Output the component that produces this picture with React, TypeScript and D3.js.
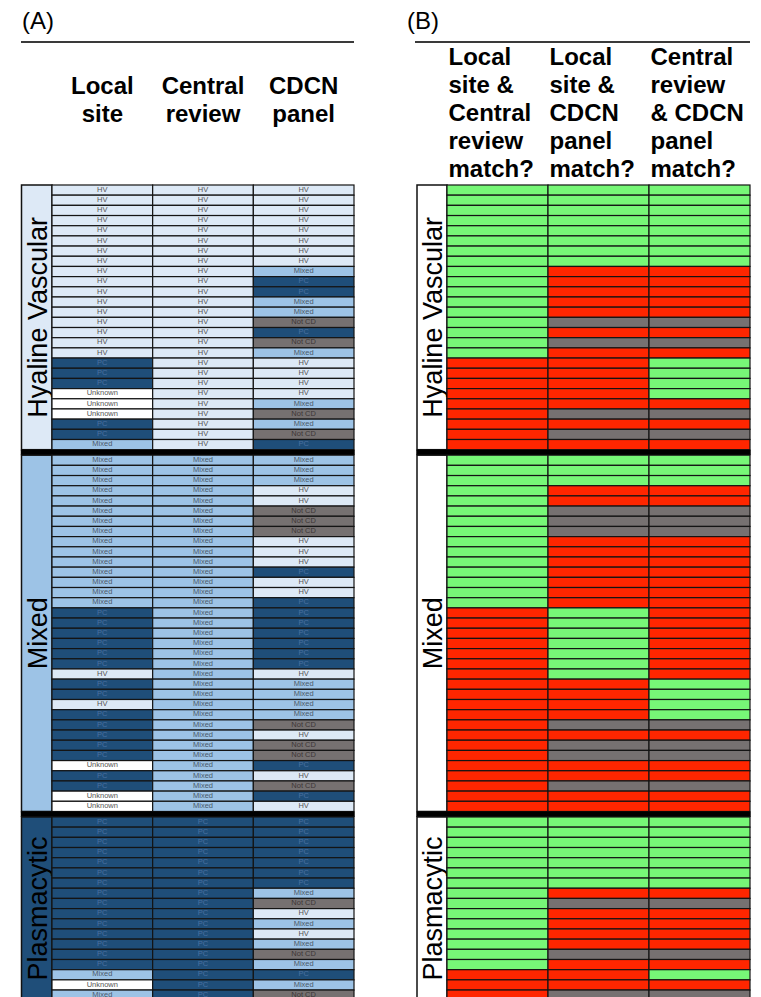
import React from 'react';
import * as d3 from 'd3';

// group names (row blocks)
const groupNames = ['Hyaline Vascular', 'Mixed', 'Plasmacytic'];

// panel A column headers
const headersA = [['Local', 'site'], ['Central', 'review'], ['CDCN', 'panel']];
// panel B column headers
const headersB = [
  ['Local', 'site &', 'Central', 'review', 'match?'],
  ['Local', 'site &', 'CDCN', 'panel', 'match?'],
  ['Central', 'review', '& CDCN', 'panel', 'match?'],
];

// ---- panel A: diagnoses ----
const hvLocal = ['HV', 'HV', 'HV', 'HV', 'HV', 'HV', 'HV', 'HV', 'HV', 'HV', 'HV', 'HV', 'HV', 'HV', 'HV', 'HV', 'HV',
  'PC', 'PC', 'PC', 'Unknown', 'Unknown', 'Unknown', 'PC', 'PC', 'Mixed'];
const hvCentral = ['HV', 'HV', 'HV', 'HV', 'HV', 'HV', 'HV', 'HV', 'HV', 'HV', 'HV', 'HV', 'HV', 'HV', 'HV', 'HV', 'HV',
  'HV', 'HV', 'HV', 'HV', 'HV', 'HV', 'HV', 'HV', 'HV'];
const hvPanel = ['HV', 'HV', 'HV', 'HV', 'HV', 'HV', 'HV', 'HV', 'Mixed', 'PC', 'PC', 'Mixed', 'Mixed', 'Not CD', 'PC', 'Not CD', 'Mixed',
  'HV', 'HV', 'HV', 'HV', 'Mixed', 'Not CD', 'Mixed', 'Not CD', 'PC'];

const mixLocal = ['Mixed', 'Mixed', 'Mixed', 'Mixed', 'Mixed', 'Mixed', 'Mixed', 'Mixed', 'Mixed', 'Mixed', 'Mixed', 'Mixed', 'Mixed', 'Mixed', 'Mixed',
  'PC', 'PC', 'PC', 'PC', 'PC', 'PC', 'HV', 'PC', 'PC', 'HV', 'PC', 'PC', 'PC', 'PC', 'PC', 'Unknown', 'PC', 'PC', 'Unknown', 'Unknown'];
const mixCentral = ['Mixed', 'Mixed', 'Mixed', 'Mixed', 'Mixed', 'Mixed', 'Mixed', 'Mixed', 'Mixed', 'Mixed', 'Mixed', 'Mixed', 'Mixed', 'Mixed', 'Mixed',
  'Mixed', 'Mixed', 'Mixed', 'Mixed', 'Mixed', 'Mixed', 'Mixed', 'Mixed', 'Mixed', 'Mixed', 'Mixed', 'Mixed', 'Mixed', 'Mixed', 'Mixed',
  'Mixed', 'Mixed', 'Mixed', 'Mixed', 'Mixed'];
const mixPanel = ['Mixed', 'Mixed', 'Mixed', 'HV', 'HV', 'Not CD', 'Not CD', 'Not CD', 'HV', 'HV', 'HV', 'PC', 'HV', 'HV', 'PC',
  'PC', 'PC', 'PC', 'PC', 'PC', 'PC', 'HV', 'Mixed', 'Mixed', 'Mixed', 'Mixed', 'Not CD', 'HV', 'Not CD', 'Not CD',
  'PC', 'HV', 'Not CD', 'PC', 'HV'];

const pcLocal = ['PC', 'PC', 'PC', 'PC', 'PC', 'PC', 'PC', 'PC', 'PC', 'PC', 'PC', 'PC', 'PC', 'PC', 'PC', 'Mixed', 'Unknown', 'Mixed'];
const pcCentral = ['PC', 'PC', 'PC', 'PC', 'PC', 'PC', 'PC', 'PC', 'PC', 'PC', 'PC', 'PC', 'PC', 'PC', 'PC', 'PC', 'PC', 'PC'];
const pcPanel = ['PC', 'PC', 'PC', 'PC', 'PC', 'PC', 'PC', 'Mixed', 'Not CD', 'HV', 'Mixed', 'HV', 'Mixed', 'Not CD', 'Mixed',
  'PC', 'Mixed', 'Not CD'];

// ---- panel B: match? Y = yes, N = no, X = not CD ----
const hvLC = ['Y', 'Y', 'Y', 'Y', 'Y', 'Y', 'Y', 'Y', 'Y', 'Y', 'Y', 'Y', 'Y', 'Y', 'Y', 'Y', 'Y',
  'N', 'N', 'N', 'N', 'N', 'N', 'N', 'N', 'N'];
const hvLP = ['Y', 'Y', 'Y', 'Y', 'Y', 'Y', 'Y', 'Y', 'N', 'N', 'N', 'N', 'N', 'X', 'N', 'X', 'N',
  'N', 'N', 'N', 'N', 'N', 'X', 'N', 'X', 'N'];
const hvCP = ['Y', 'Y', 'Y', 'Y', 'Y', 'Y', 'Y', 'Y', 'N', 'N', 'N', 'N', 'N', 'X', 'N', 'X', 'N',
  'Y', 'Y', 'Y', 'Y', 'N', 'X', 'N', 'X', 'N'];

const mixLC = ['Y', 'Y', 'Y', 'Y', 'Y', 'Y', 'Y', 'Y', 'Y', 'Y', 'Y', 'Y', 'Y', 'Y', 'Y',
  'N', 'N', 'N', 'N', 'N', 'N', 'N', 'N', 'N', 'N', 'N', 'N', 'N', 'N', 'N', 'N', 'N', 'N', 'N', 'N'];
const mixLP = ['Y', 'Y', 'Y', 'N', 'N', 'X', 'X', 'X', 'N', 'N', 'N', 'N', 'N', 'N', 'N',
  'Y', 'Y', 'Y', 'Y', 'Y', 'Y', 'Y', 'N', 'N', 'N', 'N', 'X', 'N', 'X', 'X', 'N', 'N', 'X', 'N', 'N'];
const mixCP = ['Y', 'Y', 'Y', 'N', 'N', 'X', 'X', 'X', 'N', 'N', 'N', 'N', 'N', 'N', 'N',
  'N', 'N', 'N', 'N', 'N', 'N', 'N', 'Y', 'Y', 'Y', 'Y', 'X', 'N', 'X', 'X', 'N', 'N', 'X', 'N', 'N'];

const pcLC = ['Y', 'Y', 'Y', 'Y', 'Y', 'Y', 'Y', 'Y', 'Y', 'Y', 'Y', 'Y', 'Y', 'Y', 'Y', 'N', 'N', 'N'];
const pcLP = ['Y', 'Y', 'Y', 'Y', 'Y', 'Y', 'Y', 'N', 'X', 'N', 'N', 'N', 'N', 'X', 'N', 'N', 'N', 'X'];
const pcCP = ['Y', 'Y', 'Y', 'Y', 'Y', 'Y', 'Y', 'N', 'X', 'N', 'N', 'N', 'N', 'X', 'N', 'Y', 'N', 'X'];

const catFill: Record<string, string> = {
  HV: '#dde9f6', Mixed: '#9dc3e6', PC: '#1f4e79', 'Not CD': '#767171', Unknown: '#ffffff',
};
const catText: Record<string, string> = {
  HV: '#555555', Mixed: '#4b5a6b', PC: '#4a70a0', 'Not CD': '#3d3636', Unknown: '#555555',
};
const matchFill: Record<string, string> = { Y: '#77f777', N: '#ff2600', X: '#767171' };
const labelFillA = ['#dde9f6', '#9dc3e6', '#1f4e79'];

const FONT = '"Liberation Sans", Arial, Helvetica, sans-serif';

const rowH = 10.18;
const gap = 5.5;
const tableTop = 185;

const Panel = ({ cols, labelX0, labelX1, x1, labelFill, fillOf, textOf }) => {
  const x = d3.scaleBand<number>().domain(d3.range(cols[0].length)).range([labelX1, x1]);
  const groupTops: number[] = [];
  let t = tableTop;
  cols.forEach(g => { groupTops.push(t); t += g[0].length * rowH + gap; });

  return (
    <g fontFamily={FONT}>
      {cols.map((g, gi) => {
        const n = g[0].length;
        const y = d3.scaleBand<number>().domain(d3.range(n)).range([groupTops[gi], groupTops[gi] + n * rowH]);
        const yMid = groupTops[gi] + (n * rowH) / 2;
        return (
          <g key={gi}>
            <rect x={labelX0} y={groupTops[gi]} width={labelX1 - labelX0} height={n * rowH}
              fill={labelFill[gi]} stroke="#111" strokeWidth={1.5} />
            <text transform={`translate(${(labelX0 + labelX1) / 2 + 10},${yMid}) rotate(-90)`}
              textAnchor="middle" fontSize={27} fill="#000">{groupNames[gi]}</text>
            {g.map((col, ci) => col.map((v, ri) => (
              <g key={`${ci}-${ri}`}>
                <rect x={x(ci)} y={y(ri)} width={x.bandwidth()} height={y.bandwidth()}
                  fill={fillOf(v)} stroke="#141414" strokeWidth={1.2} />
                {textOf && (
                  <text x={x(ci) + x.bandwidth() / 2} y={y(ri) + y.bandwidth() / 2 - 0.3}
                    textAnchor="middle" dominantBaseline="middle" fontSize={7.5} fill={textOf(v)}>{v}</text>
                )}
              </g>
            )))}
            {gi < cols.length - 1 && (
              <rect x={labelX0 - 0.75} y={groupTops[gi] + n * rowH} width={x1 - labelX0 + 1.5} height={gap} fill="#000" />
            )}
          </g>
        );
      })}
    </g>
  );
};

export default function App() {
  const colsA = [[hvLocal, hvCentral, hvPanel], [mixLocal, mixCentral, mixPanel], [pcLocal, pcCentral, pcPanel]];
  const colsB = [[hvLC, hvLP, hvCP], [mixLC, mixLP, mixCP], [pcLC, pcLP, pcCP]];
  const xA = d3.scaleBand<number>().domain(d3.range(3)).range([52, 354]);
  const xB = d3.scaleBand<number>().domain(d3.range(3)).range([447, 750]);

  return (
    <div style={{ position: 'absolute', left: 0, top: 0 }}>
      <svg width={761} height={997} style={{ display: 'block', overflow: 'hidden', background: '#fff' }}>
        <g fontFamily={FONT}>
          <text x={22} y={29} fontSize={24}>(A)</text>
          <text x={407} y={29} fontSize={24}>(B)</text>
          <line x1={21} x2={354} y1={42} y2={42} stroke="#3a3a3a" strokeWidth={1.8} />
          <line x1={415} x2={750} y1={42} y2={42} stroke="#3a3a3a" strokeWidth={1.8} />
          {headersA.map((lines, i) => (
            <text key={i} x={xA(i) + xA.bandwidth() / 2} textAnchor="middle" fontSize={24} fontWeight="bold">
              {lines.map((l, j) => <tspan key={j} x={xA(i) + xA.bandwidth() / 2} y={94 + j * 28}>{l}</tspan>)}
            </text>
          ))}
          {headersB.map((lines, i) => (
            <text key={i} fontSize={24} fontWeight="bold">
              {lines.map((l, j) => <tspan key={j} x={xB(i) + 1.5} y={65 + j * 28}>{l}</tspan>)}
            </text>
          ))}
        </g>
        <Panel cols={colsA} labelX0={21.5} labelX1={52} x1={354} labelFill={labelFillA}
          fillOf={v => catFill[v]} textOf={v => catText[v]} />
        <Panel cols={colsB} labelX0={417} labelX1={447} x1={750} labelFill={['#fff', '#fff', '#fff']}
          fillOf={v => matchFill[v]} textOf={null} />
      </svg>
    </div>
  );
}
